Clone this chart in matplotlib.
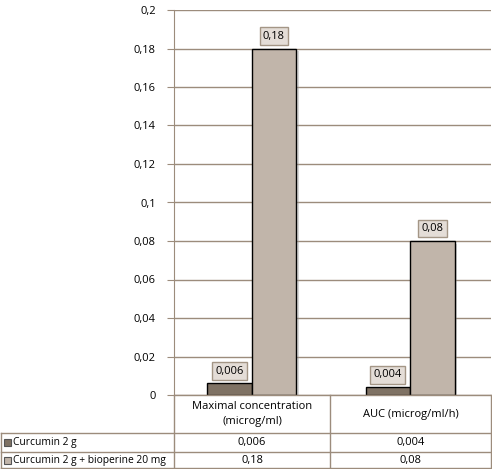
import matplotlib
matplotlib.use("Agg")
import matplotlib.pyplot as plt
import matplotlib.patheffects as pe
import numpy as np

categories = ["Maximal concentration\n(microg/ml)", "AUC (microg/ml/h)"]
series_names = ["Curcumin 2 g", "Curcumin 2 g + bioperine 20 mg"]
curcumin = [0.006, 0.004]
curcumin_bioperine = [0.18, 0.08]
yticks = [0, 0.02, 0.04, 0.06, 0.08, 0.1, 0.12, 0.14, 0.16, 0.18, 0.2]

dark = "#7f7264"
light = "#c1b5aa"
line_col = "#9c8c7c"

plt.rcParams["font.family"] = ["Open Sans", "DejaVu Sans"]
fs = 8

W, H = 492, 469
fig = plt.figure(figsize=(W / 100, H / 100), dpi=100)
x0, x1, ytop, y0 = 174, 491, 10, 395
ax = fig.add_axes([x0 / W, (H - y0) / H, (x1 - x0) / W, (y0 - ytop) / H])

def fmt(v):
    s = f"{v:g}"
    return s.replace(".", ",")

x = np.arange(len(categories))
bw = 0.28
series = [curcumin, curcumin_bioperine]
colors = [dark, light]
shadow = [pe.withSimplePatchShadow(offset=(2, -2), shadow_rgbFace="#999999", alpha=0.4)]
for i, (vals, c) in enumerate(zip(series, colors)):
    pos = x + (i - 0.5) * bw - 0.01
    ax.bar(pos, vals, width=bw, color=c, edgecolor="black", linewidth=1,
           zorder=3, path_effects=shadow)
    for px, v in zip(pos, vals):
        ax.annotate(fmt(v), (px, v), xytext=(0, 5), textcoords="offset points",
                    ha="center", va="bottom", fontsize=fs, zorder=5,
                    bbox=dict(boxstyle="square,pad=0.3", facecolor="#e4ddd7",
                              edgecolor="#a49686", linewidth=1))

ax.set_xlim(-0.5, 1.5)
ax.set_ylim(0, 0.2)
ax.set_yticks(yticks)
ax.set_yticklabels([fmt(v) for v in yticks], fontsize=fs)
ax.tick_params(axis="y", length=5, color=line_col, pad=8)
ax.set_xticks([])
ax.grid(axis="y", color=line_col, linewidth=1, zorder=0)
for s in ["top", "right", "bottom"]:
    ax.spines[s].set_visible(False)
ax.spines["left"].set_color(line_col)

# table below the chart
def fx(px):
    return px / W

def fy(py):
    return 1 - py / H

lk = dict(color=line_col, linewidth=1, transform=fig.transFigure)
col_edges = [x0, 330, x1]
rows = [395, 433, 452, 468]
fig.add_artist(plt.Line2D([fx(x0), fx(x0)], [fy(395), fy(468)], **lk))
for cx in col_edges[1:]:
    fig.add_artist(plt.Line2D([fx(cx), fx(cx)], [fy(395), fy(468)], **lk))
fig.add_artist(plt.Line2D([fx(1), fx(1)], [fy(433), fy(468)], **lk))
fig.add_artist(plt.Line2D([fx(x0), fx(x1)], [fy(395), fy(395)], **lk))
for ry in rows[1:]:
    fig.add_artist(plt.Line2D([fx(1), fx(x1)], [fy(ry), fy(ry)], **lk))

for j, cat in enumerate(categories):
    cx = (col_edges[j] + col_edges[j + 1]) / 2
    fig.text(fx(cx), fy(414), cat, ha="center", va="center", fontsize=fs,
             linespacing=1.5)
for i, (name, vals, c) in enumerate(zip(series_names, series, colors)):
    cy = (rows[i + 1] + rows[i + 2]) / 2
    fig.patches.append(plt.Rectangle((fx(4), fy(cy + 3.5)), 7 / W, 7 / H,
                                     facecolor=c, edgecolor="#555555", linewidth=0.8,
                                     transform=fig.transFigure, figure=fig))
    fig.text(fx(13), fy(cy), name, ha="left", va="center", fontsize=7.4)
    for j, v in enumerate(vals):
        cx = (col_edges[j] + col_edges[j + 1]) / 2
        fig.text(fx(cx), fy(cy), fmt(v), ha="center", va="center", fontsize=fs)

fig.savefig("out.png", dpi=100, facecolor="white")
